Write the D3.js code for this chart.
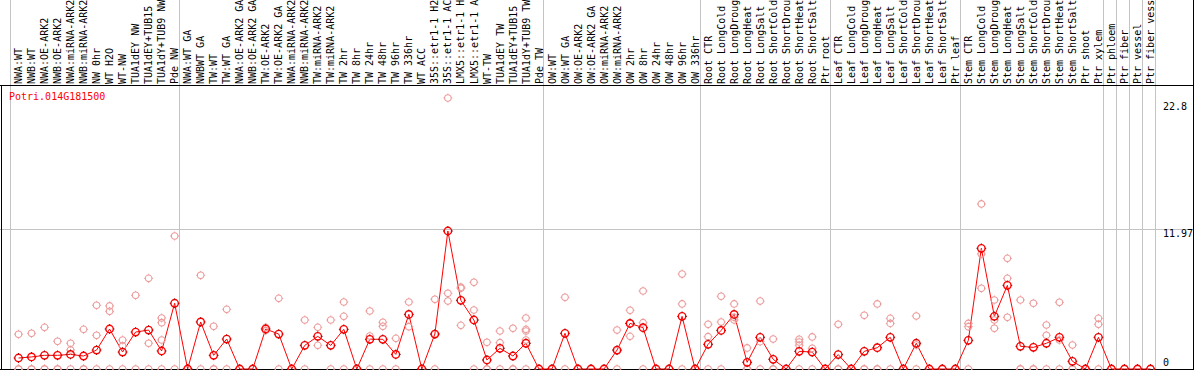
<!DOCTYPE html>
<html>
<head>
  <meta charset="utf-8">
  <script src="https://d3js.org/d3.v7.min.js"></script>
  <style>
    body { margin: 0; background: #fff; }
    text { font-family: "DejaVu Sans Mono", monospace; font-size: 10px; }
  </style>
</head>
<body>
<script>
var width = 1194;
var height = 370;

var gene = "Potri.014G181500";

// labels as they show in the header (long ones are cut at the top there)
var samples = [
  "NWA:WT", "NWB:WT", "NWA:OE-ARK2", "NWB:OE-ARK2", "NWA:miRNA-ARK2", "NWB:miRNA-ARK2",
  "NW 0hr", "WT H2O", "WT-NW", "TUA1dEY NW", "TUA1dEY+TUB15", "TUA1dY+TUB9 NW", "Pde NW",
  "NWA:WT GA", "NWBWT GA", "TW:WT", "TW:WT GA", "NWA:OE-ARK2 GA", "NWB:OE-ARK2 GA",
  "TW:OE-ARK2", "TW:OE-ARK2 GA", "NWA:miRNA-ARK2", "NWB:miRNA-ARK2", "TW:miRNA-ARK2", "TW:miRNA-ARK2",
  "TW 2hr", "TW 8hr", "TW 24hr", "TW 48hr", "TW 96hr", "TW 336hr", "WT ACC",
  "35S::etr1-1 H2", "35S::etr1-1 AC", "LMX5::etr1-1 H", "LMX5::etr1-1 A",
  "WT-TW", "TUA1dEY TW", "TUA1dEY+TUB15", "TUA1dY+TUB9 TW", "Pde TW",
  "OW:WT", "OW:WT GA", "OW:OE-ARK2", "OW:OE-ARK2 GA", "OW:miRNA-ARK2", "OW:miRNA-ARK2",
  "OW 2hr", "OW 8hr", "OW 24hr", "OW 48hr", "OW 96hr", "OW 336hr",
  "Root CTR", "Root LongCold", "Root LongDroug", "Root LongHeat", "Root LongSalt",
  "Root ShortCold", "Root ShortDrou", "Root ShortHeat", "Root ShortSalt", "Ptr root",
  "Leaf CTR", "Leaf LongCold", "Leaf LongDroug", "Leaf LongHeat", "Leaf LongSalt",
  "Leaf ShortCold", "Leaf ShortDrou", "Leaf ShortHeat", "Leaf ShortSalt", "Ptr leaf",
  "Stem CTR", "Stem LongCold", "Stem LongDroug", "Stem LongHeat", "Stem LongSalt",
  "Stem ShortCold", "Stem ShortDrou", "Stem ShortHeat", "Stem ShortSalt", "Ptr shoot",
  "Ptr xylem", "Ptr phloem", "Ptr fiber", "Ptr vessel", "Ptr fiber vess"
];

// group borders (index of first sample of each block)
var groupBreaks = [0, 13, 41, 53, 63, 73, 84, 85, 86, 87, 88];

var means = [
  0.94, 1.03, 1.17, 1.17, 1.25, 1.11, 1.62, 3.42, 1.45, 3.16, 3.33, 1.54, 5.62,
  0, 4.02, 1.17, 2.56, 0, 0, 3.42, 2.99, 0, 2.02, 2.79, 2.02, 3.39, 0, 2.54, 2.54, 1.25, 4.67, 0,
  2.99, 11.8, 5.87, 4.19, 0.77, 1.77, 1.11, 2.2, 0,
  0, 3.05, 0, 0, 0, 1.62, 3.9, 3.53, 0, 0, 4.5, 0,
  2.11, 3.3, 4.67, 0.57, 2.71, 0.83, 0, 1.51, 1.45, 0,
  1.23, 0, 1.51, 1.82, 2.71, 0, 2.2, 0, 0, 0,
  2.45, 10.32, 4.5, 7.15, 1.94, 1.85, 2.2, 2.71, 0.66, 0,
  2.71, 0, 0, 0, 0
];

var replicates = [
  [2.97, 0, 0], [3.05, 0, 0], [3.56, 0, 0], [2.37, 0, 0], [2.2, 1.62, 0], [3.39, 0, 0],
  [5.45, 2.88, 0], [5.39, 4.93, 0], [2.48, 1.97, 0], [6.3, 0], [7.75, 2.2, 0],
  [4.36, 3.96, 2.48, 0], [11.37, 0],
  [0, 0], [8.01, 0], [3.65, 0, 0], [5.1, 0], [0], [0], [3.56, 3.28], [6.04, 0], [0],
  [4.19, 0], [3.56, 2.02], [4.19, 0], [5.73, 4.5, 0], [0], [4.96, 2.82, 0], [3.99, 3.65, 0],
  [2.62, 0], [5.73, 3.62], [0],
  [5.96, 3.0, 0], [23.17, 6.47, 5.81], [7.0, 6.9, 3.73], [7.41, 5.04, 0], [2.28, 0, 0],
  [3.25, 2.25, 0], [3.48, 0, 0], [4.36, 3.39, 3.25, 2.48, 0], [0],
  [0], [6.13, 0], [0], [0], [0], [3.33, 1.55, 0], [5.02, 3.9, 2.79], [6.67, 3.96, 0],
  [0], [0], [8.12, 5.56, 0], [0],
  [3.82, 2.76, 0], [6.22, 4.02, 0], [5.56, 4.42, 4.19], [1.8, 0, 0], [5.81, 2.34, 0],
  [2.56, 0, 0], [0], [2.54, 2.31, 2.03, 0], [2.74, 1.77, 0], [0],
  [3.82, 0, 0], [0], [4.59, 0, 0], [5.56, 0, 0], [4.33, 3.9, 0], [0], [4.53, 2.05, 0],
  [0], [0], [0],
  [3.9, 3.62, 0], [14.11, 9.83, 6.9], [5.9, 4.19, 3.48], [9.46, 7.75, 4.42], [5.9, 0, 0],
  [5.62, 0, 0], [3.76, 2.88, 0], [5.7, 2.48, 0], [2.05, 0, 0], [0],
  [4.33, 3.82, 0], [0], [0], [0], [0]
];

var yTicks = [22.8, 11.97, 0];

var headerY = 85.5;
var baseY = 369;

var svg = d3.select("body")
  .append("svg")
  .attr("width", width)
  .attr("height", height);

var colStart = d3.scaleLinear().domain([0, samples.length]).range([10, 1155]);
function cx(i) { return colStart(i) + 8.5; }

var y = d3.scaleLinear().domain([0, 11.97]).range([baseY, 229]);

// vertical group separators
svg.selectAll("line.sep")
  .data(groupBreaks)
  .enter()
  .append("line")
  .attr("class", "sep")
  .attr("x1", function(d) { return Math.round(colStart(d)) + 0.5; })
  .attr("x2", function(d) { return Math.round(colStart(d)) + 0.5; })
  .attr("y1", 0)
  .attr("y2", baseY)
  .style("stroke", "#c4c4c4");

// gridline at middle tick
svg.append("line")
  .attr("x1", 0).attr("x2", width)
  .attr("y1", Math.round(y(11.97)) + 0.5).attr("y2", Math.round(y(11.97)) + 0.5)
  .style("stroke", "#c4c4c4");

// frame
svg.append("line")
  .attr("x1", 0).attr("x2", width)
  .attr("y1", headerY).attr("y2", headerY)
  .style("stroke", "#000");
svg.append("line")
  .attr("x1", 1.5).attr("x2", 1.5)
  .attr("y1", headerY).attr("y2", height)
  .style("stroke", "#000");
svg.append("line")
  .attr("x1", 1193.5).attr("x2", 1193.5)
  .attr("y1", 0).attr("y2", height)
  .style("stroke", "#000");
svg.append("line")
  .attr("x1", 0).attr("x2", width)
  .attr("y1", baseY + 0.5).attr("y2", baseY + 0.5)
  .style("stroke", "#000");

// sample labels, rotated
svg.selectAll("text.lab")
  .data(samples)
  .enter()
  .append("text")
  .attr("class", "lab")
  .attr("transform", function(d, i) { return "translate(" + cx(i) + "," + (headerY - 1.5) + ") rotate(-90)"; })
  .attr("dy", "0.36em")
  .style("fill", "#000")
  .text(function(d) { return d; });

// y tick labels on the right
svg.selectAll("text.tick")
  .data(yTicks)
  .enter()
  .append("text")
  .attr("class", "tick")
  .attr("x", 1163)
  .attr("y", function(d) { return d == 0 ? y(d) - 3 : y(d) + 8; })
  .style("fill", "#000")
  .text(function(d) { return d; });

svg.append("text")
  .attr("x", 9)
  .attr("y", 100)
  .style("fill", "#ff0000")
  .text(gene);

// mean line
var line = d3.line()
  .x(function(d, i) { return cx(i); })
  .y(function(d) { return y(d); });

svg.append("path")
  .datum(means)
  .attr("d", line)
  .style("fill", "none")
  .style("stroke", "#ff0000")
  .style("stroke-width", 1);

function marker(g, r, col, tickCol, sw) {
  g.append("circle")
    .attr("r", r)
    .style("fill", "none")
    .style("stroke", col)
    .style("stroke-width", sw);
  g.append("path")
    .attr("d", "M0," + (-r - 1.2) + "V" + (-r) +
               "M0," + r + "V" + (r + 1.2) +
               "M" + (-r - 1.2) + ",0H" + (-r) +
               "M" + r + ",0H" + (r + 1.2))
    .style("stroke", tickCol)
    .style("stroke-width", 0.9);
}

// replicate points
var reps = [];
replicates.forEach(function(arr, i) {
  arr.forEach(function(v) { reps.push({ i: i, v: v }); });
});

svg.selectAll("g.rep")
  .data(reps)
  .enter()
  .append("g")
  .attr("class", "rep")
  .attr("transform", function(d) { return "translate(" + cx(d.i) + "," + y(d.v) + ")"; })
  .each(function() { marker(d3.select(this), 3.3, "#ec9a9a", "#ec9a9a", 1.1); });

// mean points
svg.selectAll("g.mean")
  .data(means)
  .enter()
  .append("g")
  .attr("class", "mean")
  .attr("transform", function(d, i) { return "translate(" + cx(i) + "," + y(d) + ")"; })
  .each(function() { marker(d3.select(this), 3.7, "#ff0000", "#7a0000", 1.4); });
</script>
</body>
</html>
